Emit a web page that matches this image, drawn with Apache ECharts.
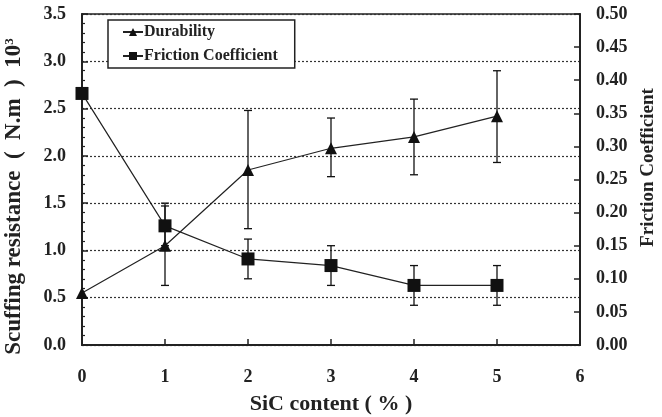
<!DOCTYPE html>
<html>
<head>
<meta charset="utf-8">
<script src="https://cdn.jsdelivr.net/npm/echarts@6/dist/echarts.min.js"></script>
<style>
  html, body { margin: 0; padding: 0; background: #fff; }
  #chart { width: 662px; height: 417px; }
</style>
</head>
<body>
<div id="chart"></div>
<script>
// SiC content (%)
const sicContent = [0, 1, 2, 3, 4, 5];

// Durability (scuffing resistance, N.m x10^3) with error limits
const durability     = [0.55, 1.05, 1.85, 2.08, 2.20, 2.42];
const durabilityLow  = [null, 0.63, 1.23, 1.78, 1.80, 1.93];
const durabilityHigh = [null, 1.50, 2.48, 2.40, 2.60, 2.90];

// Friction coefficient with error limits
const friction     = [0.38, 0.18, 0.13, 0.12, 0.09, 0.09];
const frictionLow  = [null, 0.15, 0.10, 0.09, 0.06, 0.06];
const frictionHigh = [null, 0.21, 0.16, 0.15, 0.12, 0.12];

const FONT = '"Liberation Serif", "DejaVu Serif", serif';

function pairs(xs, ys) { return xs.map((x, i) => [x, ys[i]]); }
function bars(xs, lo, hi) {
  const out = [];
  xs.forEach((x, i) => { if (lo[i] != null) out.push([x, lo[i], hi[i]]); });
  return out;
}

// whisker drawn through the axis scales
function errorBarRenderer(params, api) {
  const x = api.value(0);
  const lo = api.coord([x, api.value(1)]);
  const hi = api.coord([x, api.value(2)]);
  const cap = 4;
  const style = { stroke: '#111', lineWidth: 1.3 };
  return {
    type: 'group',
    children: [
      { type: 'line', shape: { x1: lo[0], y1: lo[1], x2: hi[0], y2: hi[1] }, style },
      { type: 'line', shape: { x1: lo[0] - cap, y1: lo[1], x2: lo[0] + cap, y2: lo[1] }, style },
      { type: 'line', shape: { x1: hi[0] - cap, y1: hi[1], x2: hi[0] + cap, y2: hi[1] }, style }
    ]
  };
}

const chart = echarts.init(document.getElementById('chart'), null, { renderer: 'canvas' });

const labelStyle = { color: '#222', fontFamily: FONT, fontWeight: 'bold', fontSize: 18 };

chart.setOption({
  backgroundColor: '#fff',
  animation: false,
  grid: {
    left: 82, right: 82, top: 14, bottom: 72,
    outerBoundsMode: 'none', containLabel: false,
    show: true, borderColor: '#222', borderWidth: 1.5, backgroundColor: 'transparent'
  },
  legend: {
    orient: 'vertical',
    left: 108, top: 20,
    padding: [4, 17, 4, 14],
    itemGap: 8,
    itemWidth: 20, itemHeight: 10,
    backgroundColor: '#fff',
    borderColor: '#222', borderWidth: 1.5, borderRadius: 0,
    textStyle: { color: '#222', fontFamily: FONT, fontWeight: 'bold', fontSize: 16, padding: [0, 0, 0, -4] },
    data: ['Durability', 'Friction Coefficient']
  },
  xAxis: {
    type: 'value', min: 0, max: 6, interval: 1,
    name: 'SiC content ( % )', nameLocation: 'middle', nameGap: 48,
    nameTextStyle: { color: '#222', fontFamily: FONT, fontWeight: 'bold', fontSize: 22 },
    axisLine: { lineStyle: { color: '#222', width: 2 } },
    axisTick: { inside: true, length: 6, lineStyle: { color: '#222', width: 1.5 } },
    axisLabel: Object.assign({ margin: 23 }, labelStyle),
    splitLine: { show: false }
  },
  yAxis: [
    {
      type: 'value', min: 0, max: 3.5, interval: 0.5, position: 'left',
      name: '{t|Scuffing resistance  (  N.m  )  10}{s|3}',
      nameLocation: 'middle', nameGap: 56, nameRotate: 90,
      nameTextStyle: {
        padding: [0, 34, 0, 0],
        rich: {
          t: { color: '#222', fontFamily: FONT, fontWeight: 'bold', fontSize: 23 },
          s: { color: '#222', fontFamily: FONT, fontWeight: 'bold', fontSize: 13, verticalAlign: 'top', padding: [0, 0, 10, 0] }
        }
      },
      axisLine: { show: true, lineStyle: { color: '#222', width: 2 } },
      axisTick: { show: true, inside: true, length: 6, lineStyle: { color: '#222', width: 1.5 } },
      minorTick: { show: true, splitNumber: 5, length: 3, lineStyle: { color: '#222', width: 1.2 } },
      axisLabel: Object.assign({ margin: 16, formatter: v => v.toFixed(1) }, labelStyle),
      splitLine: { show: true, lineStyle: { color: '#333', type: [2, 2], width: 1.2 } }
    },
    {
      type: 'value', min: 0, max: 0.5, interval: 0.05, position: 'right',
      name: 'Friction Coefficient', nameLocation: 'middle', nameGap: 58, nameRotate: 90,
      nameTextStyle: { color: '#222', fontFamily: FONT, fontWeight: 'bold', fontSize: 19, padding: [0, 0, 0, 24] },
      axisLine: { show: true, lineStyle: { color: '#222', width: 2 } },
      axisTick: { show: true, inside: true, length: 6, lineStyle: { color: '#222', width: 1.5 } },
      axisLabel: Object.assign({ margin: 16, formatter: v => v.toFixed(2) }, labelStyle),
      splitLine: { show: false }
    }
  ],
  series: [
    {
      name: 'Durability', type: 'line', yAxisIndex: 0,
      data: pairs(sicContent, durability),
      symbol: 'triangle', symbolSize: 12,
      lineStyle: { color: '#222', width: 1.2 },
      itemStyle: { color: '#111' },
      z: 5
    },
    {
      name: 'Friction Coefficient', type: 'line', yAxisIndex: 1,
      data: pairs(sicContent, friction),
      symbol: 'rect', symbolSize: 13,
      lineStyle: { color: '#222', width: 1.2 },
      itemStyle: { color: '#111' },
      z: 5
    },
    {
      type: 'custom', yAxisIndex: 0,
      data: bars(sicContent, durabilityLow, durabilityHigh),
      renderItem: errorBarRenderer,
      encode: { x: 0, y: [1, 2] }, z: 4, silent: true
    },
    {
      type: 'custom', yAxisIndex: 1,
      data: bars(sicContent, frictionLow, frictionHigh),
      renderItem: errorBarRenderer,
      encode: { x: 0, y: [1, 2] }, z: 4, silent: true
    }
  ]
});
</script>
</body>
</html>
